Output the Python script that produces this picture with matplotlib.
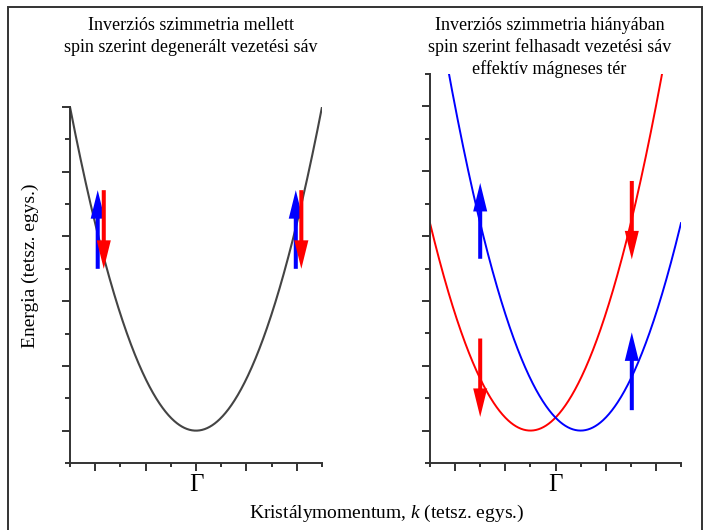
import numpy as np
import matplotlib
matplotlib.use("Agg")
import matplotlib.pyplot as plt
from matplotlib.patches import Rectangle

plt.rcParams['font.family'] = ['Liberation Serif', 'DejaVu Serif']
plt.rcParams['mathtext.fontset'] = 'custom'
plt.rcParams['mathtext.rm'] = 'Liberation Serif'
plt.rcParams['mathtext.it'] = 'Liberation Serif:italic'

# band parameters (k in tick units, E in tick units)
k_range = (-2.5, 2.5)
E_min = 0.5            # bottom of the bands
curv = 0.8             # E = E_min + curv * (k - k0)^2
k0_left = [0.0]        # degenerate band
k0_red = -0.5          # spin-down band (shifted left)
k0_blue = 0.5          # spin-up band (shifted right)
ylim_left = 5.5
ylim_right = 6.0

# spin arrows: position k, tail energy, tip energy, colour
left_arrow_k = [-1.95, -1.83, 1.98, 2.09]
left_arrow_tail = [3.0, 4.215, 3.0, 4.215]
left_arrow_tip = [4.215, 3.0, 4.215, 3.0]
left_arrow_col = ['blue', 'red', 'blue', 'red']

right_arrow_k = [-1.5, -1.5, 1.52, 1.52]
right_arrow_tail = [3.15, 1.92, 4.35, 0.815]
right_arrow_tip = [4.32, 0.71, 3.14, 2.015]
right_arrow_col = ['blue', 'red', 'red', 'blue']

title_left = "Inverziós szimmetria mellett\nspin szerint degenerált vezetési sáv"
title_right = ("Inverziós szimmetria hiányában\nspin szerint felhasadt vezetési sáv\n"
               "effektív mágneses tér")

W, H = 706, 530
fig = plt.figure(figsize=(W / 100, H / 100), dpi=100)

ax1 = fig.add_axes([70 / W, (H - 463) / H, 252 / W, (463 - 107) / H])
ax2 = fig.add_axes([430 / W, (H - 463) / H, 251 / W, (463 - 74) / H])

k = np.linspace(k_range[0], k_range[1], 600)
ax1.plot(k, E_min + curv * (k - k0_left[0]) ** 2, color='#444444', lw=1.5)
ax2.plot(k, E_min + curv * (k - k0_red) ** 2, color='#ff0000', lw=1.4)
ax2.plot(k, E_min + curv * (k - k0_blue) ** 2, color='#0000ff', lw=1.4)


def draw_arrows(ax, ks, tails, tips, cols):
    for x, t0, t1, c in zip(ks, tails, tips, cols):
        ax.arrow(x, t0, 0, t1 - t0, width=0.08, head_width=0.28,
                 head_length=0.44, length_includes_head=True,
                 color=c, lw=0, zorder=5)


draw_arrows(ax1, left_arrow_k, left_arrow_tail, left_arrow_tip, left_arrow_col)
draw_arrows(ax2, right_arrow_k, right_arrow_tail, right_arrow_tip, right_arrow_col)

for ax, top in [(ax1, ylim_left), (ax2, ylim_right)]:
    ax.set_xlim(*k_range)
    ax.set_ylim(0, top)
    ax.spines['top'].set_visible(False)
    ax.spines['right'].set_visible(False)
    for s in ['left', 'bottom']:
        ax.spines[s].set_color('#333333')
        ax.spines[s].set_linewidth(1.4)
    ax.set_xticks([-2, -1, 0, 1, 2])
    ax.set_xticklabels(['', '', 'Γ', '', ''], fontsize=18)
    ax.set_xticks([-2.5, -1.5, -0.5, 0.5, 1.5, 2.5], minor=True)
    ax.set_yticks(np.arange(0.5, top + 0.01, 1.0))
    ax.set_yticks(np.arange(0, top + 0.01, 1.0), minor=True)
    ax.set_yticklabels([])
    ax.tick_params(axis='x', which='major', direction='out', length=5.5,
                   width=1.4, color='#333333', pad=2.5)
    ax.tick_params(axis='x', which='minor', direction='out', length=3,
                   width=1.4, color='#333333')
    ax.tick_params(axis='y', which='major', direction='out', length=6,
                   width=1.4, color='#333333')
    ax.tick_params(axis='y', which='minor', direction='out', length=3.5,
                   width=1.4, color='#333333')

fig.text(190.5 / W, (H - 17) / H, title_left, ha='center', va='top', fontsize=13,
         linespacing=1.42)
fig.text(549.5 / W, (H - 17) / H, title_right, ha='center', va='top', fontsize=13,
         linespacing=1.3)
fig.text(30 / W, (H - 266) / H, "Energia (tetsz. egys.)", rotation=90, ha='center',
         va='center', fontsize=14)
fig.text(387 / W, (H - 518) / H, "Kristálymomentum, $k$ (tetsz. egys.)",
         ha='center', va='baseline', fontsize=14)

# frame around the figure
fig.patches.append(Rectangle((7.5 / W, -0.05), (701.5 - 7.5) / W, 1.05 - 7 / H,
                             transform=fig.transFigure, fill=False,
                             edgecolor='#333333', lw=1.4))

fig.savefig("out.png", dpi=100)
